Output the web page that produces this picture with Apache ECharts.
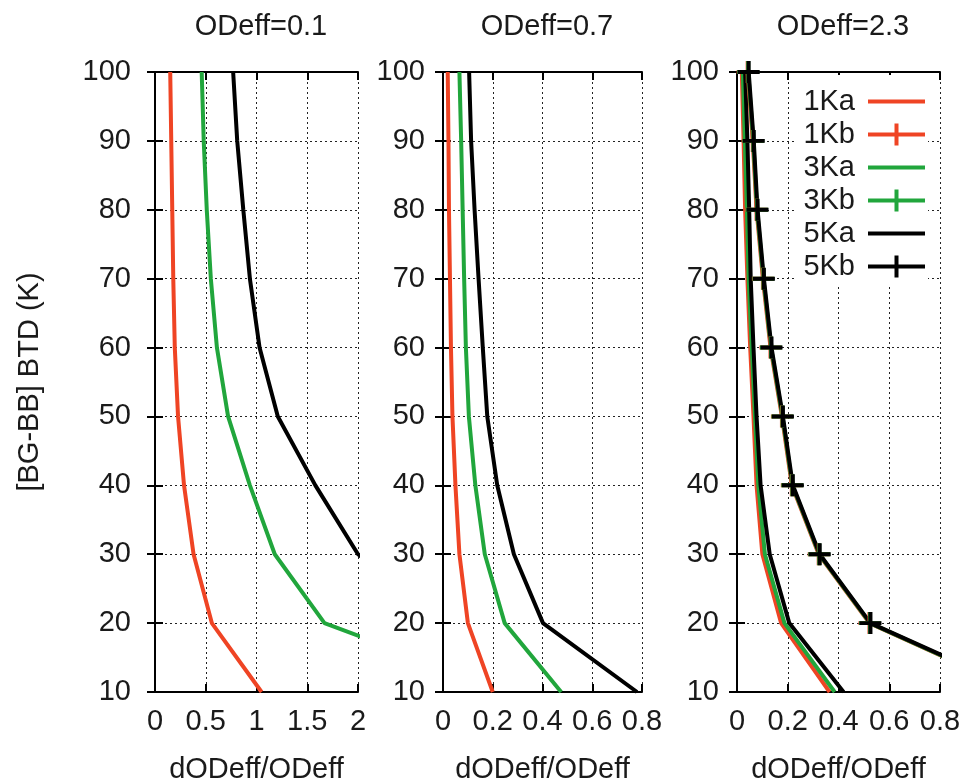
<!DOCTYPE html>
<html>
<head>
<meta charset="utf-8">
<script src="https://cdn.jsdelivr.net/npm/echarts@6/dist/echarts.min.js"></script>
<style>html,body{margin:0;padding:0;background:#fff}#c{width:968px;height:784px}</style>
</head>
<body>
<div id="c"></div>
<script>
// BTD levels (K)
const levels = [100, 90, 80, 70, 60, 50, 40, 30, 20, 10];
const panelTitles = ['ODeff=0.1', 'ODeff=0.7', 'ODeff=2.3'];
const seriesNames = ['1Ka', '1Kb', '3Ka', '3Kb', '5Ka', '5Kb'];
const xTicks1 = { min: 0, max: 2, interval: 0.5 };
const xTicks23 = { min: 0, max: 0.8, interval: 0.2 };
// Panel 1: ODeff=0.1
const p1_1K = [0.15, 0.16, 0.17, 0.18, 0.195, 0.227, 0.286, 0.38, 0.56, 1.05];
const p1_3K = [0.46, 0.48, 0.51, 0.55, 0.61, 0.72, 0.935, 1.18, 1.67, 3.5];
const p1_5K = [0.77, 0.81, 0.87, 0.935, 1.03, 1.21, 1.58, 2.0, 2.9, 5.5];
// Panel 2: ODeff=0.7
const p2_1K = [0.019, 0.022, 0.024, 0.028, 0.032, 0.038, 0.05, 0.066, 0.10, 0.20];
const p2_3K = [0.066, 0.073, 0.079, 0.085, 0.092, 0.104, 0.13, 0.168, 0.248, 0.475];
const p2_5K = [0.105, 0.113, 0.127, 0.143, 0.16, 0.178, 0.218, 0.285, 0.402, 0.78];
// Panel 3: ODeff=2.3
const p3_1Ka = [0.019, 0.026, 0.032, 0.041, 0.052, 0.065, 0.077, 0.10, 0.174, 0.365];
const p3_3Ka = [0.023, 0.031, 0.039, 0.046, 0.058, 0.071, 0.084, 0.11, 0.187, 0.385];
const p3_5Ka = [0.032, 0.041, 0.048, 0.054, 0.065, 0.077, 0.093, 0.129, 0.206, 0.42];
const p3_1Kb = [0.042, 0.062, 0.077, 0.102, 0.132, 0.177, 0.216, 0.322, 0.522, 1.12];
const p3_3Kb = [0.044, 0.064, 0.079, 0.104, 0.134, 0.179, 0.218, 0.324, 0.524, 1.12];
const p3_5Kb = [0.046, 0.066, 0.081, 0.106, 0.136, 0.181, 0.22, 0.326, 0.526, 1.13];

const RED = '#ef4424', GREEN = '#21a63c', BLACK = '#000000';
const FONT = "'Liberation Sans', Arial, sans-serif";
const TXT = '#1a1a1a';
const FS = 29;
const PLUS = 'path://M-1.8,-10L1.8,-10L1.8,-1.8L10,-1.8L10,1.8L1.8,1.8L1.8,10L-1.8,10L-1.8,1.8L-10,1.8L-10,-1.8L-1.8,-1.8Z';
const ICON_A = 'path://M0,0L57,0L57,4L0,4Z';
const ICON_B = 'path://M0,9L26.5,9L26.5,0L30.5,0L30.5,9L57,9L57,13L30.5,13L30.5,22L26.5,22L26.5,13L0,13Z';

const grids = [
  { left: 155, top: 72, width: 203, height: 620, outerBoundsMode: 'none', containLabel: false },
  { left: 443, top: 72, width: 199, height: 620, outerBoundsMode: 'none', containLabel: false },
  { left: 737, top: 72, width: 203, height: 620, outerBoundsMode: 'none', containLabel: false }
];
const centers = [256, 542, 838];

const lineAx = { show: true, lineStyle: { color: '#000', width: 2 } };
const tickAx = { show: true, inside: true, length: 8, lineStyle: { color: '#000', width: 2 } };
const split = { show: true, lineStyle: { color: '#222', width: 1, type: [2, 3] } };

const xAxis = [], yAxis = [];
for (let i = 0; i < 3; i++) {
  const xt = i === 0 ? xTicks1 : xTicks23;
  xAxis.push({
    type: 'value', gridIndex: i, position: 'bottom', min: xt.min, max: xt.max, interval: xt.interval,
    axisLine: lineAx, axisTick: tickAx, splitLine: split,
    axisLabel: { color: TXT, fontSize: FS, fontFamily: FONT, margin: 15, hideOverlap: false },
    name: 'dODeff/ODeff', nameLocation: 'middle', nameGap: 63,
    nameTextStyle: { color: TXT, fontSize: FS, fontFamily: FONT }
  });
  xAxis.push({
    type: 'value', gridIndex: i, position: 'top', min: xt.min, max: xt.max, interval: xt.interval,
    axisLine: lineAx, axisTick: tickAx, splitLine: { show: false }, axisLabel: { show: false }
  });
  yAxis.push({
    type: 'value', gridIndex: i, position: 'left', min: 10, max: 100, interval: 10,
    axisLine: lineAx, axisTick: tickAx, splitLine: split,
    axisLabel: { color: TXT, fontSize: FS, fontFamily: FONT, margin: i === 0 ? 24 : 18 },
    name: i === 0 ? '[BG-BB] BTD (K)' : '', nameLocation: 'middle', nameGap: 111,
    nameTextStyle: { color: TXT, fontSize: FS, fontFamily: FONT }
  });
  yAxis.push({
    type: 'value', gridIndex: i, position: 'right', min: 10, max: 100, interval: 10,
    axisLine: lineAx, axisTick: tickAx, splitLine: { show: false }, axisLabel: { show: false }
  });
}

function pts(vals) { return levels.map((l, k) => [vals[k], l]); }
function lineSeries(name, vals, color, panel, withPlus) {
  return {
    type: 'line', name: name, xAxisIndex: panel * 2, yAxisIndex: panel * 2,
    data: pts(vals), clip: true, animation: false,
    symbol: withPlus ? PLUS : 'none', symbolSize: 22, showSymbol: !!withPlus,
    lineStyle: { color: color, width: 4 },
    itemStyle: { color: color, borderWidth: 0 },
    emphasis: { disabled: true }
  };
}

const series = [
  lineSeries('1Ka', p1_1K, RED, 0), lineSeries('3Ka', p1_3K, GREEN, 0), lineSeries('5Ka', p1_5K, BLACK, 0),
  lineSeries('1Ka', p2_1K, RED, 1), lineSeries('3Ka', p2_3K, GREEN, 1), lineSeries('5Ka', p2_5K, BLACK, 1),
  lineSeries('1Ka', p3_1Ka, RED, 2), lineSeries('3Ka', p3_3Ka, GREEN, 2), lineSeries('5Ka', p3_5Ka, BLACK, 2),
  lineSeries('1Kb', p3_1Kb, RED, 2, true), lineSeries('3Kb', p3_3Kb, GREEN, 2, true), lineSeries('5Kb', p3_5Kb, BLACK, 2, true)
];

const chart = echarts.init(document.getElementById('c'), null, { renderer: 'canvas' });
chart.setOption({
  backgroundColor: '#fff',
  animation: false,
  title: panelTitles.map((t, i) => ({
    text: t, left: centers[i], top: 7, textAlign: 'center',
    textStyle: { color: TXT, fontSize: FS, fontWeight: 'normal', fontFamily: FONT }
  })),
  legend: {
    data: seriesNames.map(n => ({ name: n, icon: n.endsWith('b') ? ICON_B : ICON_A })),
    orient: 'vertical', align: 'right', symbolKeepAspect: true,
    right: 40, top: 75, itemWidth: 57, itemHeight: 22, itemGap: 4,
    padding: [12, 3, 6, 7], backgroundColor: '#fff',
    selectedMode: false,
    textStyle: { color: TXT, fontSize: FS, fontFamily: FONT, width: 58, align: 'right', padding: [0, 8, 0, 0] }
  },
  grid: grids,
  xAxis: xAxis,
  yAxis: yAxis,
  series: series
});
</script>
</body>
</html>
